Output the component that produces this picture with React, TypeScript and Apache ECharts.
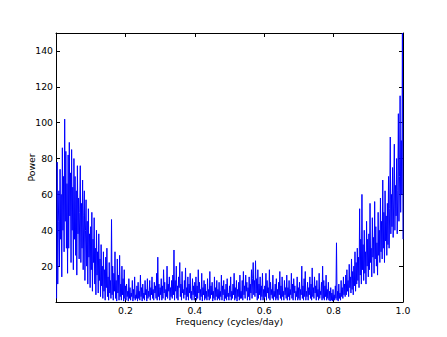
import React, { useEffect, useRef } from "react";
import * as echarts from "echarts";

// Periodogram power values, evenly spaced in frequency from 1/N up to 1.0
const power: number[] = [
  2, 78, 10, 45, 62, 20, 74, 35, 60, 14, 86, 40, 70, 28, 102, 45, 84, 30, 66, 16,
  82, 30, 89, 48, 72, 22, 85, 40, 64, 18, 80, 35, 70, 26, 62, 15, 76, 38, 58, 24,
  50, 76, 22, 55, 30, 68, 18, 48, 62, 12, 40, 57, 20, 45, 10, 52, 25, 38, 8, 42,
  18, 50, 6, 35, 22, 47, 10, 30, 4, 40, 15, 28, 5, 38, 12, 24, 3, 32, 9, 20,
  2, 28, 6, 18, 1, 25, 8, 30, 3, 14, 1, 22, 5, 12, 2, 46, 4, 20, 1, 16,
  6, 28, 2, 12, 0.5, 24, 5, 15, 1, 26, 3, 10, 1, 20, 4, 13, 0.5, 18, 2, 9,
  1, 10, 3, 6, 0.5, 13, 2, 8, 1, 5, 3, 12, 0.5, 7, 2, 14, 1, 4, 2, 9,
  0.5, 11, 2, 6, 1, 15, 3, 8, 0.5, 10, 2, 5, 1, 12, 4, 7, 0.5, 13, 2, 6,
  3, 12, 1, 8, 4, 14, 2, 7, 1, 11, 5, 9, 2, 16, 1, 25, 3, 10, 1, 8,
  4, 13, 1, 9, 2, 18, 5, 11, 1, 7, 3, 20, 2, 10, 6, 14, 1, 8, 3, 12,
  2, 15, 4, 29, 1, 12, 6, 20, 2, 9, 1, 14, 8, 22, 3, 10, 1, 17, 5, 7,
  2, 12, 4, 19, 1, 8, 3, 14, 1, 10, 5, 16, 2, 6, 1, 13, 4, 9, 1, 11,
  3, 14, 1, 9, 2, 18, 5, 11, 1, 7, 3, 16, 0.5, 8, 4, 12, 1, 10, 2, 6,
  1, 13, 3, 7, 1, 17, 2, 9, 4, 11, 0.5, 6, 2, 14, 1, 8, 3, 12, 1, 7,
  2, 11, 1, 6, 3, 15, 1, 9, 4, 12, 0.5, 7, 2, 10, 1, 13, 3, 5, 1, 9,
  3, 14, 1, 6, 2, 10, 4, 16, 1, 8, 2, 12, 0.5, 7, 3, 11, 1, 15, 2, 6,
  2, 12, 1, 17, 4, 9, 2, 15, 6, 11, 1, 8, 3, 14, 1, 10, 5, 18, 2, 13,
  22, 4, 12, 3, 23, 5, 13, 1, 18, 2, 10, 4, 14, 1, 9, 3, 16, 1, 7, 2,
  9, 3, 16, 1, 12, 5, 8, 2, 18, 1, 11, 4, 7, 2, 15, 1, 6, 3, 10, 1,
  13, 2, 7, 1, 11, 4, 17, 2, 9, 1, 14, 3, 6, 1, 12, 4, 8, 2, 15, 1,
  8, 3, 12, 1, 7, 4, 16, 2, 10, 1, 13, 5, 9, 1, 6, 3, 14, 1, 8, 2,
  11, 1, 7, 4, 20, 2, 9, 1, 13, 3, 17, 1, 6, 3, 11, 1, 8, 4, 14, 2,
  10, 1, 19, 3, 8, 2, 14, 5, 9, 1, 12, 3, 7, 1, 16, 2, 6, 4, 11, 1,
  20, 2, 12, 1, 9, 3, 15, 1, 7, 2, 11, 1, 6, 0.5, 8, 1, 5, 0.5, 7, 1,
  4, 1, 9, 2, 33, 1, 6, 0.5, 10, 2, 5, 1, 12, 3, 8, 2, 14, 4, 10, 3,
  15, 4, 18, 6, 12, 3, 21, 8, 14, 5, 24, 7, 17, 4, 20, 9, 28, 6, 22, 10,
  30, 12, 25, 8, 52, 15, 35, 10, 60, 18, 32, 12, 40, 16, 28, 10, 45, 20, 35, 14,
  38, 18, 55, 22, 30, 14, 47, 25, 36, 16, 56, 24, 42, 20, 33, 15, 50, 26, 40, 22,
  58, 28, 45, 24, 68, 30, 50, 22, 62, 34, 48, 26, 55, 32, 70, 30, 52, 92, 38, 60,
  42, 75, 36, 58, 88, 40, 65, 48, 80, 38, 62, 105, 45, 70, 115, 50, 90, 60, 150, 35,
];

const freqMin = 0;
const freqMax = 1.0;
const freqInterval = 0.2;
const powerMin = 0;
const powerMax = 150;
const powerInterval = 20;

const xName = "Frequency (cycles/day)";
const yName = "Power";

const FONT = "DejaVu Sans";
const FS = 9.3;

export default function App() {
  const ref = useRef<HTMLDivElement>(null);

  useEffect(() => {
    if (!ref.current) return;
    const chart = echarts.init(ref.current, undefined, { renderer: "svg" });
    const n = power.length;
    const data = power.map((p, i) => [((i + 1) / n) * freqMax, p]);

    const frameLine = { show: true, onZero: false, lineStyle: { color: "#000", width: 1 } };
    const tick = { show: true, inside: true, length: 4, lineStyle: { color: "#000", width: 1 } };

    chart.setOption({
      animation: false,
      backgroundColor: "#fff",
      grid: { left: 56, right: 44, top: 33, bottom: 35, containLabel: false },
      xAxis: [
        {
          type: "value",
          min: freqMin,
          max: freqMax,
          interval: freqInterval,
          position: "bottom",
          axisLine: frameLine,
          axisTick: tick,
          splitLine: { show: false },
          axisLabel: {
            color: "#000",
            fontSize: FS,
            fontFamily: FONT,
            margin: 3,
            lineHeight: 11,
            formatter: (v: number) => (v === 0 ? "" : v.toFixed(1)),
          },
          name: xName,
          nameLocation: "middle",
          nameGap: 14,
          nameMoveOverlap: false,
          nameTextStyle: { color: "#000", fontSize: FS, fontFamily: FONT, lineHeight: 11 },
        },
        {
          type: "value",
          min: freqMin,
          max: freqMax,
          interval: freqInterval,
          position: "top",
          axisLine: frameLine,
          axisTick: tick,
          splitLine: { show: false },
          axisLabel: { show: false },
        },
      ],
      yAxis: [
        {
          type: "value",
          min: powerMin,
          max: powerMax,
          interval: powerInterval,
          position: "left",
          axisLine: frameLine,
          axisTick: tick,
          splitLine: { show: false },
          axisLabel: {
            color: "#000",
            fontSize: FS,
            fontFamily: FONT,
            margin: 3,
            formatter: (v: number) => (v === 0 || v === 150 ? "" : String(v)),
          },
          name: yName,
          nameLocation: "middle",
          nameGap: 20,
          nameMoveOverlap: false,
          nameTextStyle: { color: "#000", fontSize: FS, fontFamily: FONT },
        },
        {
          type: "value",
          min: powerMin,
          max: powerMax,
          interval: powerInterval,
          position: "right",
          axisLine: frameLine,
          axisTick: tick,
          splitLine: { show: false },
          axisLabel: { show: false },
        },
      ],
      series: [
        {
          type: "line",
          data,
          xAxisIndex: 0,
          yAxisIndex: 0,
          symbol: "none",
          showSymbol: false,
          lineStyle: { color: "#0000ff", width: 1 },
          clip: true,
        },
      ],
    });
    return () => chart.dispose();
  }, []);

  return (
    <div
      ref={ref}
      style={{ position: "fixed", left: 0, top: 0, width: 447, height: 337, background: "#fff" }}
    />
  );
}
